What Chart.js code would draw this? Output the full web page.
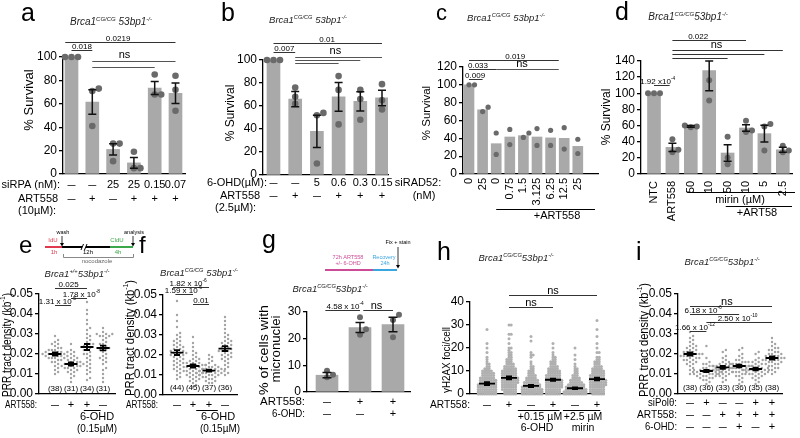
<!DOCTYPE html>
<html><head><meta charset="utf-8">
<script src="https://cdn.jsdelivr.net/npm/chart.js@4.4.1/dist/chart.umd.min.js"></script>
<style>
html,body{margin:0;padding:0;background:#fff;}
body{width:800px;height:438px;position:relative;overflow:hidden;}
canvas{position:absolute;left:0;top:0;}
</style></head><body>
<script>
// ================= DATA =================
// Panel a
const aYTicks=[0,20,40,60,80,100];
const aSiRPA=['–','–','25','25','0.15','0.07'];
const aART=['–','+','–','+','+','+'];
const aMean=[100,61.5,21,9.5,73.5,69];
const aSem=[0,10.5,4.8,4.5,5.5,8.8];
const aPts=[[100,100,100],[73,71,41],[26,26,11],[19,5,5],[85,68,68],[84,72,54]];
// Panel b
const bYTicks=[0,20,40,60,80,100];
const bOHD=['–','–','5','0.6','0.3','0.15'];
const bART=['–','+','–','+','+','+'];
const bMean=[100,66,38,68,64,67];
const bSem=[0,6.7,14,12.5,8.3,6.8];
const bPts=[[100,100,100],[76,68,62],[54,52,10],[86,74,44],[74,66,48],[79,65,57]];
// Panel c
const cYTicks=[0,20,40,60,80,100,120];
const cDose=['0','25','0','0.75','1.5','3.125','6.25','12.5','25'];
const cMean=[100,72,34,41.5,43,41.5,40.5,40,31];
const cPts=[[100,100],[75,70],[46,22],[50,33],[46,41],[51,32],[49,32],[52,28],[39,23]];
// Panel d
const dYTicks=[0,20,40,60,80,100,120,140];
const dLabels=['NTC','ART558','50','10','50','10','5','2.5'];
const dMean=[100,33,59,128,26,57,50,30];
const dSem=[0,5,1,25,10.3,4,10.5,3];
const dPts=[[100,100,100],[43,30,27],[60,59,58],[116,91,176],[46,20,12],[66,54,52],[62,59,29],[35,29,27]];
// Panel e
const eYTicks=[0,0.01,0.02,0.03,0.04,0.05];
const eN=['(38)','(31)','(34)','(31)'];
const eART=['–','+','+','–'];
const eMean=[0.0200,0.0150,0.0235,0.0230];
const eSem=[0.0008,0.0008,0.0015,0.0012];
const eVals=[
 [0.029,0.027,0.026,0.025,0.025,0.024,0.023,0.023,0.022,0.022,0.022,0.021,0.021,0.021,0.021,0.020,0.020,0.020,0.020,0.020,0.019,0.019,0.019,0.019,0.018,0.018,0.018,0.018,0.017,0.017,0.016,0.016,0.015,0.014,0.013,0.012,0.011,0.010],
 [0.025,0.022,0.021,0.020,0.019,0.018,0.018,0.017,0.017,0.016,0.016,0.016,0.015,0.015,0.015,0.015,0.014,0.014,0.014,0.014,0.013,0.013,0.013,0.012,0.012,0.011,0.011,0.010,0.009,0.008,0.006],
 [0.046,0.042,0.040,0.037,0.035,0.033,0.032,0.030,0.029,0.028,0.027,0.026,0.025,0.025,0.024,0.024,0.023,0.022,0.022,0.021,0.020,0.020,0.019,0.018,0.017,0.016,0.015,0.014,0.013,0.012,0.011,0.010,0.008,0.007],
 [0.033,0.031,0.030,0.030,0.030,0.029,0.029,0.029,0.028,0.027,0.026,0.025,0.025,0.024,0.023,0.023,0.022,0.022,0.021,0.020,0.019,0.018,0.018,0.017,0.016,0.015,0.013,0.012,0.010,0.008,0.006]
];
// Panel f
const fN=['(44)','(45)','(37)','(36)'];
const fART=['–','+','+','–'];
const fMean=[0.0212,0.0145,0.0122,0.0232];
const fSem=[0.0012,0.0008,0.0005,0.0012];
const fVals=[
 [0.047,0.040,0.037,0.034,0.031,0.030,0.029,0.028,0.027,0.027,0.026,0.025,0.025,0.024,0.024,0.023,0.023,0.022,0.022,0.022,0.021,0.021,0.021,0.020,0.020,0.020,0.019,0.019,0.018,0.018,0.017,0.017,0.016,0.016,0.015,0.015,0.014,0.013,0.013,0.012,0.011,0.010,0.009,0.008],
 [0.029,0.026,0.024,0.022,0.021,0.020,0.019,0.018,0.018,0.017,0.017,0.016,0.016,0.016,0.015,0.015,0.015,0.015,0.014,0.014,0.014,0.014,0.013,0.013,0.013,0.013,0.012,0.012,0.012,0.012,0.011,0.011,0.011,0.010,0.010,0.010,0.009,0.009,0.008,0.008,0.007,0.007,0.006,0.005,0.004],
 [0.020,0.019,0.018,0.017,0.016,0.015,0.015,0.014,0.014,0.014,0.013,0.013,0.013,0.013,0.012,0.012,0.012,0.012,0.012,0.011,0.011,0.011,0.011,0.011,0.010,0.010,0.010,0.010,0.009,0.009,0.009,0.008,0.008,0.007,0.007,0.006,0.006],
 [0.039,0.037,0.035,0.033,0.031,0.030,0.029,0.028,0.027,0.027,0.026,0.026,0.025,0.025,0.024,0.024,0.023,0.023,0.022,0.022,0.022,0.021,0.021,0.020,0.020,0.019,0.019,0.018,0.018,0.017,0.016,0.015,0.014,0.013,0.011,0.010]
];
// Panel g
const gYTicks=[0,10,20,30];
const gART=['–','+','+'];
const gOHD=['–','–','+'];
const gMean=[6.3,24.2,25.3];
const gSem=[1.0,1.9,2.7];
const gPts=[[8,6.5,5.5],[28,23.5,21.5],[29,27,20.5]];
// Panel h  (foci value, number of cells)
const hYTicks=[0,10,20,30,40];
const hART=['–','+','–','+','–','+'];
const hMean=[4.5,7.0,3.5,6.2,2.5,6.5];
const hSem=[0.6,0.6,0.5,0.5,0.4,0.6];
const hCounts=[
 [[0,9],[1,9],[2,9],[3,9],[4,9],[5,8],[6,8],[7,7],[8,6],[9,6],[10,5],[11,3],[12,2],[13,2],[14,1],[15,1],[16,1],[18,1],[20,1],[22,1],[28,1]],
 [[0,6],[1,6],[2,7],[3,7],[4,7],[5,8],[6,8],[7,8],[8,7],[9,7],[10,7],[11,6],[12,5],[13,4],[14,3],[15,3],[16,2],[17,2],[18,2],[19,1],[20,2],[22,1],[24,1],[26,2],[30,2]],
 [[0,10],[1,10],[2,10],[3,9],[4,8],[5,7],[6,6],[7,5],[8,4],[9,3],[10,3],[11,2],[12,2],[13,1],[14,1],[16,1],[17,2],[18,1],[23,1],[25,1]],
 [[0,7],[1,7],[2,7],[3,8],[4,8],[5,8],[6,8],[7,7],[8,7],[9,6],[10,6],[11,5],[12,4],[13,3],[14,3],[15,2],[16,2],[17,1],[18,1],[20,1],[22,1]],
 [[0,11],[1,11],[2,10],[3,9],[4,8],[5,6],[6,5],[7,4],[8,3],[9,2],[10,2],[11,2],[12,1],[13,1],[15,1],[17,1],[20,1]],
 [[0,6],[1,7],[2,7],[3,7],[4,8],[5,8],[6,8],[7,7],[8,7],[9,6],[10,6],[11,5],[12,4],[13,3],[14,3],[15,2],[16,2],[18,2],[20,1],[22,1],[25,1],[28,1],[32,1]]
];
// Panel i
const iN=['(38)','(36)','(33)','(36)','(35)','(38)'];
const iPol=['–','+','–','–','+','+'];
const iART=['–','–','+','+','+','+'];
const iOHD=['–','–','–','+','–','+'];
const iMean=[0.0200,0.0115,0.0133,0.0140,0.0125,0.0180];
const iSem=[0.0008,0.0006,0.0007,0.0007,0.0007,0.0008];
const iVals=[
 [0.031,0.029,0.028,0.027,0.026,0.025,0.024,0.024,0.023,0.023,0.022,0.022,0.021,0.021,0.021,0.020,0.020,0.020,0.020,0.019,0.019,0.019,0.019,0.018,0.018,0.018,0.017,0.017,0.017,0.016,0.016,0.015,0.015,0.014,0.013,0.012,0.011,0.010],
 [0.024,0.018,0.016,0.015,0.015,0.014,0.014,0.013,0.013,0.013,0.012,0.012,0.012,0.012,0.012,0.011,0.011,0.011,0.011,0.011,0.010,0.010,0.010,0.010,0.010,0.009,0.009,0.009,0.009,0.008,0.008,0.008,0.007,0.007,0.006,0.005],
 [0.022,0.021,0.019,0.018,0.017,0.016,0.016,0.015,0.015,0.015,0.014,0.014,0.014,0.014,0.013,0.013,0.013,0.013,0.012,0.012,0.012,0.012,0.011,0.011,0.011,0.010,0.010,0.010,0.009,0.009,0.008,0.007,0.006],
 [0.023,0.022,0.020,0.019,0.018,0.017,0.017,0.016,0.016,0.016,0.015,0.015,0.015,0.015,0.014,0.014,0.014,0.014,0.013,0.013,0.013,0.013,0.012,0.012,0.012,0.011,0.011,0.011,0.010,0.010,0.009,0.009,0.008,0.007,0.006,0.005],
 [0.021,0.020,0.018,0.017,0.016,0.016,0.015,0.015,0.014,0.014,0.014,0.013,0.013,0.013,0.013,0.012,0.012,0.012,0.012,0.012,0.011,0.011,0.011,0.011,0.010,0.010,0.010,0.010,0.009,0.009,0.008,0.008,0.007,0.006,0.005],
 [0.028,0.026,0.025,0.024,0.023,0.023,0.022,0.022,0.021,0.021,0.020,0.020,0.020,0.019,0.019,0.019,0.018,0.018,0.018,0.018,0.017,0.017,0.017,0.017,0.016,0.016,0.016,0.015,0.015,0.015,0.014,0.014,0.013,0.013,0.012,0.012,0.011,0.010]
];

// ================= HELPERS =================
const F='"Liberation Sans", Arial, Helvetica, sans-serif';
const ROT=-Math.PI/2;
function rich(ctx,parts,x,y,size,o){
  o=o||{};
  ctx.save(); ctx.translate(x,y); if(o.rot) ctx.rotate(o.rot);
  const fnt=p=>(o.italic?'italic ':'')+(p.s?size*0.6:size)+'px '+F;
  let w=0; parts.forEach(p=>{ctx.font=fnt(p); w+=ctx.measureText(p.t).width;});
  if(o.w) ctx.scale(o.w/w,1);
  let cx=o.align==='left'?0:(o.align==='right'?-w:-w/2);
  ctx.fillStyle=o.color||'#000'; ctx.textAlign='left'; ctx.textBaseline=o.base||'alphabetic';
  parts.forEach(p=>{ctx.font=fnt(p); ctx.fillText(p.t,cx,p.s?-size*0.38:0); cx+=ctx.measureText(p.t).width;});
  ctx.restore();
}
function tx(ctx,s,x,y,size,o){ rich(ctx,[{t:s}],x,y,size,o); }
function sup(a,b,c){ const r=[{t:a},{t:b,s:1}]; if(c) r.push({t:c}); return r; }
function title(ctx,x,y,size,gen,mid){ rich(ctx,[{t:'Brca1'},{t:gen,s:1},{t:mid},{t:'-/-',s:1}],x,y,size,{italic:true,color:'#222'}); }
function line(ctx,x1,y1,x2,y2,c,lw){ ctx.save(); ctx.strokeStyle=c||'#000'; ctx.lineWidth=lw||1; ctx.beginPath(); ctx.moveTo(x1,y1); ctx.lineTo(x2,y2); ctx.stroke(); ctx.restore(); }
function sig(ctx,x1,x2,y,lab,size,o){ o=o||{}; line(ctx,x1,y+0.5,x2,y+0.5,o.color||'#333',o.lw||1); if(lab){ rich(ctx,typeof lab==='string'?[{t:lab}]:lab,o.tx!==undefined?o.tx:(x1+x2)/2,y-(o.gap!==undefined?o.gap:1.5),size,{color:o.tc}); } }
function cell(ctx,s,x,y,size){ if(s==='–') tx(ctx,'–',x,y,size,{w:8}); else tx(ctx,s,x,y,size); }
function arrow(ctx,x,y1,y2){ line(ctx,x,y1,x,y2-2,'#000',0.8); ctx.save(); ctx.fillStyle='#000'; ctx.beginPath(); ctx.moveTo(x-2,y2-3); ctx.lineTo(x+2,y2-3); ctx.lineTo(x,y2+0.5); ctx.closePath(); ctx.fill(); ctx.restore(); }

function swarm(vals,yppu,xppu,dist,step){
  const idx=vals.map((v,i)=>i).sort((a,b)=>vals[a]-vals[b]);
  const placed=[]; const off=new Array(vals.length);
  for(const i of idx){
    const py=vals[i]*yppu; let k=0, dx=0;
    while(true){
      dx=(k===0?0:(k%2?1:-1)*Math.ceil(k/2)*step);
      if(!placed.some(p=>Math.hypot(p.x-dx,p.y-py)<dist)) break;
      k++;
    }
    placed.push({x:dx,y:py}); off[i]=dx/xppu;
  }
  return off;
}
function geom(L,R,T,B,c0,s,n){ return {L,R,T,B,s,xmin:-(c0-L)/s,xmax:(n-1)+(R-(c0+(n-1)*s))/s}; }
let pid=0;
function makeChart(g,y,datasets,errFn,drawFn){
  const cv=document.createElement('canvas'); cv.width=800; cv.height=438; document.body.appendChild(cv);
  const yW=Math.min(40,g.L);
  return new Chart(cv.getContext('2d'),{
    type:'bar',
    data:{datasets:datasets},
    options:{
      responsive:false, animation:false, devicePixelRatio:1, events:[],
      layout:{padding:{left:g.L-yW,right:800-g.R,top:g.T,bottom:438-g.B}},
      plugins:{legend:{display:false},tooltip:{enabled:false}},
      scales:{
        x:{type:'linear',offset:false,min:g.xmin,max:g.xmax,ticks:{display:false},grid:{display:false,offset:false},border:{display:true,color:'#000',width:1.3},afterFit(s){s.height=0;}},
        y:{type:'linear',min:y.min,max:y.max,
           afterBuildTicks(s){s.ticks=y.ticks.map(v=>({value:v}));},
           ticks:{color:'#000',autoSkip:false,font:{family:F,size:y.size||12},padding:2,callback:(v)=>y.fmt?y.fmt(v):String(v)},
           grid:{display:true,drawOnChartArea:false,drawTicks:true,tickLength:4,color:'#000',lineWidth:1.3},
           border:{display:true,color:'#000',width:1.3},afterFit(s){s.width=yW;}}
      }
    },
    plugins:[{id:'p'+(pid++),
      afterDatasetsDraw(ch){ if(errFn){ch.ctx.save(); errFn(ch,ch.ctx); ch.ctx.restore();} },
      afterDraw(ch){ if(drawFn){ch.ctx.save(); drawFn(ch,ch.ctx); ch.ctx.restore();} }}]
  });
}
function barSet(means,w){ return {type:'bar',data:means.map((m,i)=>({x:i,y:m})),backgroundColor:'#a9a9a9',barThickness:w,order:2}; }
function dotSet(pts,g,yr,r,color,dist,step){
  const yppu=(g.B-g.T)/(yr.max-yr.min);
  const data=[];
  pts.forEach((arr,i)=>{ const off=swarm(arr,yppu,g.s,dist,step); arr.forEach((v,j)=>data.push({x:i+off[j],y:v})); });
  return {type:'scatter',data:data,pointRadius:r,pointBackgroundColor:color,backgroundColor:color,pointBorderWidth:0,borderWidth:0,order:1,clip:{left:30,right:30,top:4,bottom:30}};
}
function barErr(ch,ctx,means,sems,cw,lw){
  const xs=ch.scales.x, ys=ch.scales.y;
  ctx.strokeStyle='#111'; ctx.lineWidth=lw||1.5;
  means.forEach((m,i)=>{ const e=sems[i]; if(!e) return;
    const x=xs.getPixelForValue(i); const y1=ys.getPixelForValue(Math.min(m+e,ys.max)), y2=ys.getPixelForValue(m-e);
    ctx.beginPath(); ctx.moveTo(x,y1); ctx.lineTo(x,y2);
    ctx.moveTo(x-cw/2,y1); ctx.lineTo(x+cw/2,y1); ctx.moveTo(x-cw/2,y2); ctx.lineTo(x+cw/2,y2); ctx.stroke(); });
}
function meanErr(ch,ctx,means,sems,mw,cw){
  const xs=ch.scales.x, ys=ch.scales.y;
  ctx.strokeStyle='#000'; ctx.lineWidth=1.8;
  means.forEach((m,i)=>{ const e=sems[i]; const x=xs.getPixelForValue(i);
    const ym=ys.getPixelForValue(m), y1=ys.getPixelForValue(m+e), y2=ys.getPixelForValue(m-e);
    ctx.beginPath(); ctx.moveTo(x-mw/2,ym); ctx.lineTo(x+mw/2,ym);
    ctx.moveTo(x,y1); ctx.lineTo(x,y2); ctx.moveTo(x-cw/2,y1); ctx.lineTo(x+cw/2,y1); ctx.moveTo(x-cw/2,y2); ctx.lineTo(x+cw/2,y2); ctx.stroke(); });
}
const f2=v=>v.toFixed(2);
const PRR=[{t:'PRR tract density (kb'},{t:'-1',s:1},{t:')'}];

// ================= PANEL a =================
(function(){
  const g=geom(63,185,57,174,71.5,20.8,6), yr={min:0,max:100,ticks:aYTicks};
  makeChart(g,yr,[dotSet(aPts,g,yr,3.3,'#6a6a6a',6,6.5),barSet(aMean,13)],
    (ch,ctx)=>barErr(ch,ctx,aMean,aSem,8,1.5),
    (ch,ctx)=>{ const X=v=>ch.scales.x.getPixelForValue(v);
      tx(ctx,'a',21,21,25,{align:'left'});
      title(ctx,111,25,10,'CG/CG',' 53bp1');
      tx(ctx,'% Survival',29,100,13,{rot:ROT,base:'middle'});
      sig(ctx,X(-0.3),X(5),42,'0.0219',8,{tx:X(2.24)});
      sig(ctx,X(0),X(1),50,'0.018',8);
      sig(ctx,X(1),X(5),61,null,0,{color:'#555'}); sig(ctx,X(1),X(4),67,null,0,{color:'#555'});
      tx(ctx,'ns',X(2.55),58,11);
      tx(ctx,'siRPA (nM):',60,188,11,{align:'right'});
      aSiRPA.forEach((s,i)=>cell(ctx,s,X(i),188,11));
      tx(ctx,'ART558',18,202,11,{align:'left'}); tx(ctx,'(10µM):',18,214,11,{align:'left'});
      aART.forEach((s,i)=>cell(ctx,s,X(i),202,11));
    });
})();
// ================= PANEL b =================
(function(){
  const g=geom(263,388,60,175,273.5,21.7,6), yr={min:0,max:100,ticks:bYTicks};
  makeChart(g,yr,[dotSet(bPts,g,yr,3.3,'#6a6a6a',6,6.5),barSet(bMean,13)],
    (ch,ctx)=>barErr(ch,ctx,bMean,bSem,8,1.5),
    (ch,ctx)=>{ const X=v=>ch.scales.x.getPixelForValue(v);
      tx(ctx,'b',221,21,25,{align:'left'});
      title(ctx,308,23,9.5,'CG/CG',' 53bp1');
      tx(ctx,'% Survival',231,113,12,{rot:ROT,base:'middle'});
      sig(ctx,X(0),X(5),43,'0.01',8,{tx:X(2.47)});
      sig(ctx,X(0),X(1),52,'0.007',8);
      sig(ctx,X(1),X(5),57,null,0,{color:'#555'}); sig(ctx,X(1),X(4),60,null,0,{color:'#555'}); sig(ctx,X(1),X(3),63,null,0,{color:'#555'});
      tx(ctx,'ns',X(2.85),54,11);
      tx(ctx,'6-OHD(µM):',267,186,11,{align:'right'});
      bOHD.forEach((s,i)=>cell(ctx,s,X(i),186,11));
      tx(ctx,'ART558',220,199,11,{align:'left'}); tx(ctx,'(2.5µM):',215,211,11,{align:'left'});
      bART.forEach((s,i)=>cell(ctx,s,X(i),199,11));
    });
})();
// ================= PANEL c =================
(function(){
  const g=geom(463,598,67,174,469,13.6,9), yr={min:0,max:120,ticks:cYTicks};
  makeChart(g,yr,[dotSet(cPts,g,yr,2.6,'#6a6a6a',5,5.5),barSet(cMean,10)],null,
    (ch,ctx)=>{ const X=v=>ch.scales.x.getPixelForValue(v);
      tx(ctx,'c',436,20,22,{align:'left'});
      title(ctx,506,21,9.5,'CG/CG',' 53bp1');
      tx(ctx,'% Survival',427,113,11.5,{rot:ROT,base:'middle'});
      sig(ctx,X(0),X(6.6),60,'0.019',8,{tx:X(3.4)});
      sig(ctx,X(0),X(2),69,'0.033',8,{tx:X(0.66)});
      sig(ctx,X(2),X(6.6),69,null,0,{color:'#555'});
      tx(ctx,'ns',X(3.9),67,11);
      sig(ctx,X(0),X(1),79,'0.009',8,{tx:X(0.45)});
      cDose.forEach((s,i)=>tx(ctx,s,X(i),178,11,{rot:ROT,align:'right',base:'middle'}));
      tx(ctx,'siRAD52:',418,186,11); tx(ctx,'(nM)',424,199,11);
      line(ctx,X(2),209.5,595,209.5,'#000',1);
      tx(ctx,'+ART558',557,219,11);
    });
})();
// ================= PANEL d =================
(function(){
  const g=geom(641,792,61,174,654,18.4,8), yr={min:0,max:140,ticks:dYTicks};
  makeChart(g,yr,[dotSet(dPts,g,yr,3,'#6a6a6a',5.5,6),barSet(dMean,13)],
    (ch,ctx)=>barErr(ch,ctx,dMean,dSem,8,1.5),
    (ch,ctx)=>{ const X=v=>ch.scales.x.getPixelForValue(v);
      tx(ctx,'d',615,20,25,{align:'left'});
      title(ctx,688,20,10,'CG/CG','53bp1');
      tx(ctx,'% Survival',607,117,12,{rot:ROT,base:'middle'});
      sig(ctx,X(1),X(5),40,'0.022',8,{tx:X(2.4)});
      sig(ctx,X(1),X(7),50,null,0,{color:'#333'}); sig(ctx,X(1),X(6),54,null,0,{color:'#333'}); sig(ctx,X(1),X(4),58,null,0,{color:'#333'});
      tx(ctx,'ns',X(3.4),48,11);
      sig(ctx,X(0),X(0.85),85,sup('1.92 x10','-4'),8,{tx:X(0.2)});
      dLabels.forEach((s,i)=>tx(ctx,s,X(i),181,11,{rot:ROT,align:'right',base:'middle'}));
      line(ctx,X(1.8),192.5,795,192.5,'#000',1); tx(ctx,'mirin (µM)',740,203,11);
      line(ctx,X(3.9),206.5,792,206.5,'#000',1); tx(ctx,'+ART58',757,216,11);
    });
})();
// ================= PANEL e =================
(function(){
  const g=geom(39,115,294,394,55,16,4), yr={min:0,max:0.05,ticks:eYTicks,fmt:f2};
  makeChart(g,yr,[dotSet(eVals,g,yr,1.2,'#a3a3a3',2.8,3.1)],
    (ch,ctx)=>meanErr(ch,ctx,eMean,eSem,13,6),
    (ch,ctx)=>{ const X=v=>ch.scales.x.getPixelForValue(v);
      tx(ctx,'e',19,253,24,{align:'left'});
      const red='#e0394f', grn='#3aa84a';
      line(ctx,45,247,62,247,red,2); line(ctx,62,247,110,247,'#000',2);
      ctx.fillStyle='#fff'; ctx.fillRect(82,244,4,6);
      line(ctx,81,250,83.5,244,'#000',1); line(ctx,84.5,250,87,244,'#000',1);
      line(ctx,110,247,133,247,grn,2);
      arrow(ctx,62,236,246); arrow(ctx,133,236,246);
      tx(ctx,'IdU',53,242,6,{color:red}); tx(ctx,'1h',54,254,6,{color:red});
      tx(ctx,'CldU',117,242,6,{color:grn}); tx(ctx,'4h',118,254,6,{color:grn});
      tx(ctx,'12h',88,254,6); tx(ctx,'wash',63,234,5.5); tx(ctx,'analysis',134,234,5.5);
      ctx.strokeStyle='#888'; ctx.lineWidth=1; ctx.beginPath(); ctx.moveTo(63.5,254); ctx.lineTo(63.5,257.5); ctx.lineTo(133.5,257.5); ctx.lineTo(133.5,254); ctx.stroke();
      tx(ctx,'nocodazole',97,263,6,{color:'#666'});
      title(ctx,77,277,9.5,'+/+','53bp1');
      rich(ctx,PRR,8,345,12,{rot:ROT,base:'middle',w:104});
      sig(ctx,X(0),X(2),288,'0.025',8,{tx:X(0.85)});
      sig(ctx,X(1),X(2),298,sup('1.78 x 10','-8'),8,{tx:X(1.65)});
      sig(ctx,X(0),X(1),305,sup('1.31 x 10','-5'),8,{tx:X(0.15)});
      eN.forEach((s,i)=>tx(ctx,s,X(i),391,8));
      tx(ctx,'ART558:',37,408,11,{align:'right',w:32});
      eART.forEach((s,i)=>cell(ctx,s,X(i),408,11));
      line(ctx,X(1.8),410.5,X(2.85),410.5,'#000',1);
      tx(ctx,'6-OHD',97,420,11); tx(ctx,'(0.15µM)',97,432,10);
    });
})();
// ================= PANEL f =================
(function(){
  const g=geom(163,237,295,395,177,16,4), yr={min:0,max:0.05,ticks:eYTicks,fmt:f2};
  makeChart(g,yr,[dotSet(fVals,g,yr,1.2,'#a3a3a3',2.8,3.1)],
    (ch,ctx)=>meanErr(ch,ctx,fMean,fSem,13,6),
    (ch,ctx)=>{ const X=v=>ch.scales.x.getPixelForValue(v);
      tx(ctx,'f',139,253,24,{align:'left'});
      title(ctx,199,276,9.5,'CG/CG',' 53bp1');
      rich(ctx,PRR,131,338,12,{rot:ROT,base:'middle',w:116});
      sig(ctx,X(-0.25),X(2),287,sup('1.82 x 10','-6'),8,{tx:X(0.7)});
      sig(ctx,X(-0.1),X(1),294,sup('1.59 x 10','-6'),8,{tx:X(0.4)});
      sig(ctx,X(1),X(2),304,'0.01',8);
      fN.forEach((s,i)=>tx(ctx,s,X(i),390,8));
      tx(ctx,'ART558:',158,408,11,{align:'right',w:32});
      fART.forEach((s,i)=>cell(ctx,s,X(i),408,11));
      line(ctx,X(1.2),410.5,X(2.55),410.5,'#000',1);
      tx(ctx,'6-OHD',218,420,11); tx(ctx,'(0.15µM)',220,432,10);
    });
})();
// ================= PANEL g =================
(function(){
  const g=geom(307,410,312,392,327,33,3), yr={min:0,max:30,ticks:gYTicks};
  makeChart(g,yr,[dotSet(gPts,g,yr,3,'#6a6a6a',5.5,6),barSet(gMean,22)],
    (ch,ctx)=>barErr(ch,ctx,gMean,gSem,9,1.5),
    (ch,ctx)=>{ const X=v=>ch.scales.x.getPixelForValue(v);
      tx(ctx,'g',262,248,25,{align:'left'});
      const mag='#cc4b97', blu='#3aa6df';
      line(ctx,325,270,373,270,mag,2); line(ctx,373,270,397,270,blu,2);
      arrow(ctx,398,247,268);
      tx(ctx,'72h ART558',348,259,5.5,{color:mag}); tx(ctx,'+/- 6-OHD',348,265,5.5,{color:mag});
      tx(ctx,'Recovery',384,259,5.5,{color:blu}); tx(ctx,'24h',385,265,5.5,{color:blu});
      tx(ctx,'Fix + stain',398,244,5.5);
      title(ctx,330,292,9.5,'CG/CG','53bp1');
      tx(ctx,'% of cells with',265,350,12,{rot:ROT,base:'middle',w:90});
      tx(ctx,'micronuclei',277,349,12,{rot:ROT,base:'middle',w:67});
      sig(ctx,X(-0.05),X(1),310,sup('4.58 x 10','-4'),8,{tx:X(0.55)});
      sig(ctx,X(1.1),X(2),310,'ns',11,{tx:X(1.5)});
      tx(ctx,'ART558:',305,405,11,{align:'right',w:45});
      gART.forEach((s,i)=>cell(ctx,s,X(i),405,11));
      tx(ctx,'6-OHD:',305,417,11,{align:'right',w:33});
      gOHD.forEach((s,i)=>cell(ctx,s,X(i),417,11));
    });
})();
// ================= PANEL h =================
(function(){
  const g=geom(470,604,302,394,487,22,6), yr={min:0,max:40,ticks:hYTicks};
  const hVals=hCounts.map(grp=>{ const a=[]; grp.forEach(([v,c])=>{ for(let k=0;k<c;k++) a.push(v); }); return a; });
  makeChart(g,yr,[dotSet(hVals,g,yr,1.5,'#b0b0b0',2.1,2.2)],
    (ch,ctx)=>meanErr(ch,ctx,hMean,hSem,16,6),
    (ch,ctx)=>{ const X=v=>ch.scales.x.getPixelForValue(v);
      tx(ctx,'h',437,260,25,{align:'left'});
      title(ctx,516,261,9.5,'CG/CG','53bp1');
      tx(ctx,'γH2AX foci/cell',447,360,11,{rot:ROT,base:'middle',w:66});
      sig(ctx,X(1),X(5),295,'ns',11);
      sig(ctx,X(1),X(3),307,'ns',11);
      tx(ctx,'ART558:',470,408,11,{align:'right',w:40});
      hART.forEach((s,i)=>cell(ctx,s,X(i),408,11));
      line(ctx,X(1.4),410.5,X(3.3),410.5,'#000',1); line(ctx,X(3.45),410.5,X(5.15),410.5,'#000',1);
      tx(ctx,'+0.15 µM',540,420,10.5); tx(ctx,'+2.5 µM',583,420,10.5);
      tx(ctx,'6-OHD',537,431,10.5); tx(ctx,'mirin',583,431,10.5);
    });
})();
// ================= PANEL i =================
(function(){
  const g=geom(678,782,294,394,690,16.4,6), yr={min:0,max:0.05,ticks:eYTicks,fmt:f2};
  makeChart(g,yr,[dotSet(iVals,g,yr,1.2,'#a3a3a3',2.8,3.1)],
    (ch,ctx)=>meanErr(ch,ctx,iMean,iSem,13,6),
    (ch,ctx)=>{ const X=v=>ch.scales.x.getPixelForValue(v);
      tx(ctx,'i',636,260,25,{align:'left'});
      title(ctx,722,265,9.5,'CG/CG','53bp1');
      rich(ctx,PRR,645,340,12,{rot:ROT,base:'middle',w:114});
      sig(ctx,X(0),X(5),306,'ns',11,{tx:X(2.25)});
      sig(ctx,X(0),X(3),314,sup('6.18 x 10','-6'),8,{tx:X(0.8)});
      sig(ctx,X(1),X(5),322,sup('2.50 x 10','-10'),8,{tx:X(2.9)});
      sig(ctx,X(0),X(1),331,sup('1.66 x 10','-12'),8,{tx:X(0.3)});
      iN.forEach((s,i)=>tx(ctx,s,X(i),390,8));
      tx(ctx,'siPolθ:',677,406,11,{align:'right',w:29});
      iPol.forEach((s,i)=>cell(ctx,s,X(i),406,11));
      tx(ctx,'ART558:',677,418,11,{align:'right',w:40});
      iART.forEach((s,i)=>cell(ctx,s,X(i),418,11));
      tx(ctx,'6-OHD:',677,430,11,{align:'right',w:32});
      iOHD.forEach((s,i)=>cell(ctx,s,X(i),430,11));
    });
})();
</script></body></html>
